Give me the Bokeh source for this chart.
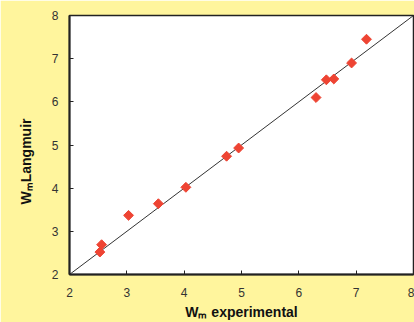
from bokeh.plotting import figure
from bokeh.embed import file_html
from bokeh.resources import INLINE
from bokeh.models import FixedTicker, Title

# data
w_experimental = [2.53, 2.56, 3.03, 3.55, 4.03, 4.74, 4.95, 6.30, 6.48, 6.61, 6.92, 7.18]
w_langmuir     = [2.52, 2.69, 3.37, 3.64, 4.02, 4.74, 4.93, 6.10, 6.51, 6.53, 6.90, 7.45]
fit_x = [2, 8]
fit_y = [2, 8]
ticks = [2, 3, 4, 5, 6, 7, 8]

BG = "#FFF59D"

p = figure(width=414, height=322, output_backend="svg", toolbar_location=None,
           x_range=(2, 8), y_range=(2, 8),
           min_border_left=69, min_border_right=1, min_border_top=15, min_border_bottom=48)
p.background_fill_color = "white"
p.border_fill_color = BG
p.outline_line_color = "#222222"
p.outline_line_width = 1.5
p.grid.visible = False

p.line(fit_x, fit_y, line_color="#333333", line_width=1)
p.scatter(w_experimental, w_langmuir, marker="square", size=7, angle=0.785398,
          fill_color="#EE4433", line_color="#EE4433")

for ax in (p.xaxis[0], p.yaxis[0]):
    ax.ticker = FixedTicker(ticks=ticks)
    ax.major_tick_in = 4
    ax.major_tick_out = 0
    ax.minor_tick_in = 0
    ax.minor_tick_out = 0
    ax.axis_line_width = 2
    ax.axis_line_color = "#222222"
    ax.major_tick_line_color = "#222222"
    ax.major_label_text_font = "Liberation Sans"
    ax.major_label_text_font_size = "12px"
    ax.major_label_text_color = "#333333"
    ax.axis_label_text_font = "Liberation Sans"
    ax.axis_label_text_font_style = "bold"
    ax.axis_label_text_font_size = "14px"
    ax.axis_label_text_color = "#111111"

p.xaxis.axis_label = "W\u2098 experimental"
p.xaxis.major_label_standoff = 13
p.yaxis.major_label_standoff = 11
p.xaxis.axis_label_standoff = 4

ytitle = Title(text="W\u2098Langmuir", align="left", vertical_align="top",
               offset=70, standoff=26,
               text_font="Liberation Sans", text_font_style="bold", text_font_size="14px",
               text_color="#111111")
p.add_layout(ytitle, "left")

html = file_html(p, INLINE)
html = html.replace("<body>", '<body style="margin:0;background:%s">' % BG, 1)
open("out.html", "w").write(html)
